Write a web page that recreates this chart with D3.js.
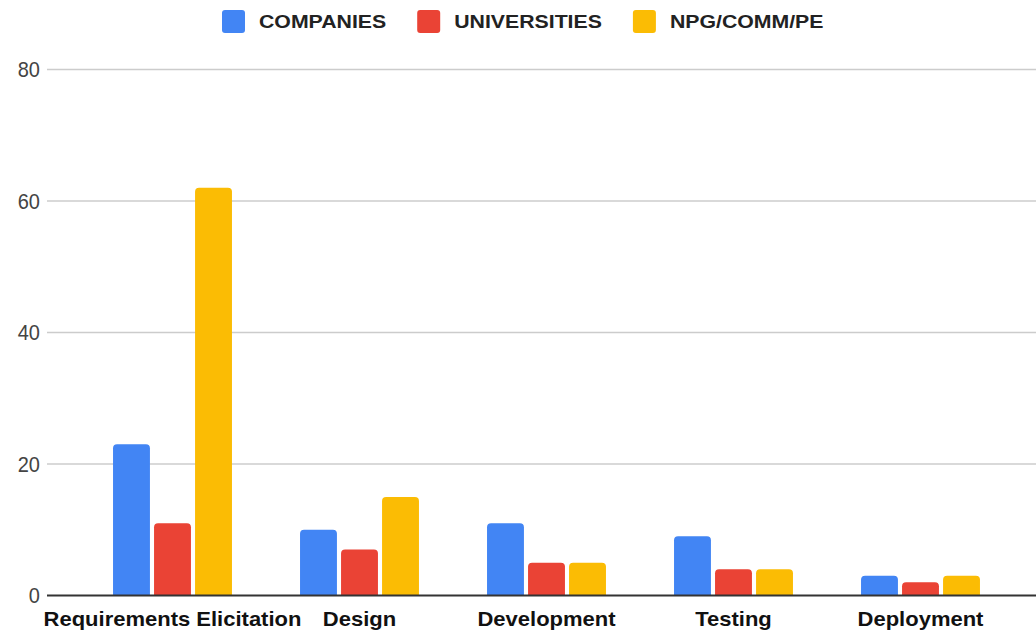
<!DOCTYPE html>
<html lang="en">
<head>
    <meta charset="UTF-8">
    <title>Activities by organisation type</title>
    <script src="https://cdnjs.cloudflare.com/ajax/libs/d3/7.8.5/d3.min.js"></script>
    <style>
        body { margin: 0; background: #fff; }
        text { font-family: "Liberation Sans", Arial, sans-serif; }
    </style>
</head>
<body>
    <svg id="chart"></svg>

    <script>
        // data
        const phases = ["Requirements Elicitation", "Design", "Development", "Testing", "Deployment"];
        const seriesNames = ["COMPANIES", "UNIVERSITIES", "NPG/COMM/PE"];
        const companies = [23, 10, 11, 9, 3];
        const universities = [11, 7, 5, 4, 2];
        const npg = [62, 15, 5, 4, 3];
        const yTicks = [0, 20, 40, 60, 80];

        const colors = ["#4285F4", "#EA4335", "#FBBC04"];

        const width = 1036;
        const height = 632;

        const svg = d3.select("#chart")
            .attr("width", width)
            .attr("height", height);

        // scales
        const x0 = d3.scaleBand()
            .domain(phases)
            .range([79, 1014])
            .paddingInner(0.364)
            .paddingOuter(0.182);

        const x1 = d3.scaleBand()
            .domain(seriesNames)
            .range([0, x0.bandwidth()])
            .paddingInner(0.1);

        const y = d3.scaleLinear()
            .domain([0, 80])
            .range([595.5, 69.5]);

        const color = d3.scaleOrdinal()
            .domain(seriesNames)
            .range(colors);

        // gridlines + y labels
        const grid = svg.append("g");
        grid.selectAll("line")
            .data(yTicks.filter(t => t > 0))
            .enter()
            .append("line")
            .attr("x1", 47)
            .attr("x2", width)
            .attr("y1", d => y(d))
            .attr("y2", d => y(d))
            .attr("stroke", "#cccccc")
            .attr("stroke-width", 1.5);

        grid.selectAll("text")
            .data(yTicks)
            .enter()
            .append("text")
            .attr("transform", d => `translate(40,${y(d)}) scale(1,1.1)`)
            .attr("dy", "0.36em")
            .attr("text-anchor", "end")
            .style("font-size", "20px")
            .style("fill", "#444")
            .text(d => d);

        // bars with rounded top corners
        const rows = phases.map((p, i) => ({
            phase: p,
            values: [companies[i], universities[i], npg[i]].map((v, j) => ({ key: seriesNames[j], value: v }))
        }));

        function barPath(x, top, w, bottom, r) {
            r = Math.min(r, (bottom - top) / 2, w / 2);
            return `M${x},${bottom}V${top + r}Q${x},${top} ${x + r},${top}H${x + w - r}Q${x + w},${top} ${x + w},${top + r}V${bottom}Z`;
        }

        const groups = svg.selectAll(".phase")
            .data(rows)
            .enter()
            .append("g")
            .attr("class", "phase")
            .attr("transform", d => `translate(${x0(d.phase)},0)`);

        groups.selectAll("path")
            .data(d => d.values)
            .enter()
            .append("path")
            .attr("d", d => barPath(x1(d.key), y(d.value), x1.bandwidth(), y(0), 4))
            .attr("fill", d => color(d.key));

        // baseline
        svg.append("line")
            .attr("x1", 47)
            .attr("x2", width)
            .attr("y1", y(0))
            .attr("y2", y(0))
            .attr("stroke", "#333")
            .attr("stroke-width", 2);

        // x labels (slightly wide, like the original)
        svg.selectAll(".xlabel")
            .data(phases)
            .enter()
            .append("text")
            .attr("class", "xlabel")
            .attr("transform", d => `translate(${x0(d) + x0.bandwidth() / 2},626) scale(1.1,1)`)
            .attr("text-anchor", "middle")
            .style("font-size", "20px")
            .style("font-weight", "bold")
            .style("fill", "#111")
            .text(d => d);

        // legend
        const legend = svg.append("g");
        const sx = 1.12;
        let lx = 222;
        seriesNames.forEach((name, i) => {
            legend.append("rect")
                .attr("x", lx)
                .attr("y", 10)
                .attr("width", 23)
                .attr("height", 23)
                .attr("rx", 3)
                .attr("fill", colors[i]);
            const t = legend.append("text")
                .attr("transform", `translate(${lx + 37},28) scale(${sx},1)`)
                .style("font-size", "19px")
                .style("font-weight", "bold")
                .style("fill", "#222")
                .text(name);
            lx += 37 + t.node().getComputedTextLength() * sx + 31;
        });
    </script>
</body>
</html>
